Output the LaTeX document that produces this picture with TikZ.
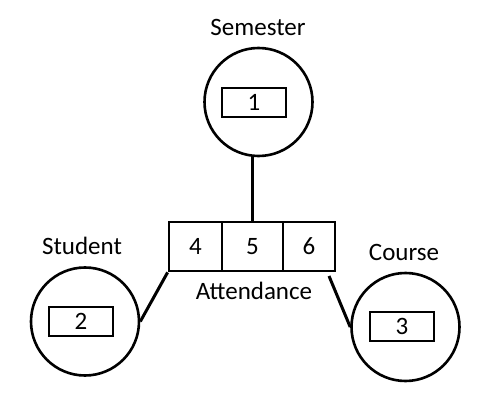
\documentclass[tikz,border=0pt]{standalone}
\usepackage{fontspec}
\setmainfont{Carlito}
\begin{document}
\begin{tikzpicture}[x=1pt,y=-1pt,
  ent/.style={draw,circle,line width=2.6pt,minimum size=108pt,inner sep=0pt},
  key/.style={draw,rectangle,line width=2.8pt,minimum width=64pt,minimum height=29pt,inner sep=0pt,font=\fontsize{25}{28}\selectfont},
  cell/.style={draw,rectangle,line width=2.8pt,minimum height=49pt,inner sep=0pt,font=\fontsize{25}{28}\selectfont},
  lbl/.style={anchor=base,inner sep=0pt,font=\fontsize{25}{28}\selectfont},
  conn/.style={line width=3pt}]
\useasboundingbox (0,0) rectangle (490,401);
% entities
\node[ent] (sem) at (258.5,102) {};
\node[ent] (stu) at (85,321.5) {};
\node[ent] (crs) at (405.5,327) {};
\node[key] (k1) at (254,102.5) {1};
\node[key] (k2) at (81,321.5) {2};
\node[key] (k3) at (402,326.5) {3};
% attendance cells
\node[cell,minimum width=53pt] (c4) at (195.5,246.5) {4};
\node[cell,minimum width=61pt] (c5) at (252.5,246.5) {5};
\node[cell,minimum width=52pt] (c6) at (309,246.5) {6};
% labels
\node[lbl] (lsem) at (258,36) {Semester};
\node[lbl] (lstu) at (82,254) {Student};
\node[lbl] (lcrs) at (404,260) {Course};
\node[lbl] (latt) at (254,299) {Attendance};
% connectors
\coordinate (ctop) at (252,221);
\draw[conn] (ctop) -- (ctop |- sem.south);
\draw[conn] (c4.south west) -- (stu.east);
\coordinate (cc) at (329,276);
\draw[conn] (cc) -- (crs.west);
\end{tikzpicture}
\end{document}
